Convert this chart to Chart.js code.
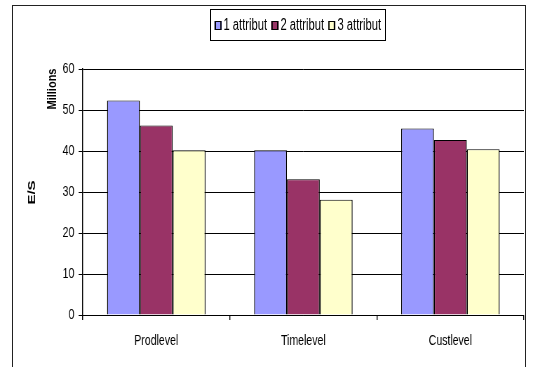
<!DOCTYPE html>
<html>
<head>
<meta charset="utf-8">
<script src="https://cdn.jsdelivr.net/npm/chart.js@4/dist/chart.umd.min.js"></script>
<style>
  html, body { margin: 0; padding: 0; background: #fff; }
  #page { position: relative; width: 533px; height: 367px; overflow: hidden; background: #fff; }
  #frame { position: absolute; left: 12px; top: 5px; width: 514px; height: 400px; border: 1px solid #222; box-sizing: border-box; }
  #legendFrame { position: absolute; left: 210px; top: 9px; width: 176px; height: 32px; border: 1px solid #000; box-sizing: border-box; background: #fff; }
  /* The reference picture is horizontally compressed (~0.70); draw wide, then compress */
  #wrap { position: absolute; left: 0; top: 0; width: 760px; height: 367px; transform: scaleX(0.70132); transform-origin: 0 0; }
  #c { position: absolute; left: 0; top: 0; }
  #legend { position: absolute; left: 299px; top: 9px; width: 251px; height: 32px;
            display: flex; align-items: center; justify-content: center; white-space: nowrap;
            font-family: 'Liberation Sans', Arial, sans-serif; font-size: 16px; color: #000; }
  .item { display: flex; align-items: center; margin: 0 3px; }
  .sw { width: 10px; height: 9px; border-style: solid; border-color: #000; border-width: 1px 2px; box-sizing: border-box; margin-right: 3px; }
</style>
</head>
<body>
<div id="page">
  <div id="frame"></div>
  <div id="legendFrame"></div>
  <div id="wrap">
    <canvas id="c" width="760" height="367"></canvas>
    <div id="legend"></div>
  </div>
</div>
<script>
const categories = ['Prodlevel', 'Timelevel', 'Custlevel'];
const seriesNames = ['1 attribut', '2 attribut', '3 attribut'];
const attr1 = [52.3, 40.2, 45.5];
const attr2 = [46.2, 33.1, 42.7];
const attr3 = [40.2, 28.1, 40.4];
const yTicks = [0, 10, 20, 30, 40, 50, 60];
const colors = ['#9999FF', '#993366', '#FFFFCC'];

const FONT = "'Liberation Sans', Arial, sans-serif";

const seriesValues = [attr1, attr2, attr3];
const datasets = seriesNames.map((n, i) => ({
  label: n,
  data: seriesValues[i],
  backgroundColor: colors[i],
  borderColor: '#000',
  borderWidth: { top: 1, bottom: 1, left: 1.4, right: 1.4 },
  categoryPercentage: 0.67,
  barPercentage: 1.0
}));

// HTML legend built from the series
const lg = document.getElementById('legend');
seriesNames.forEach((n, i) => {
  const it = document.createElement('div'); it.className = 'item';
  const sw = document.createElement('div'); sw.className = 'sw'; sw.style.background = colors[i];
  const tx = document.createElement('span'); tx.textContent = n;
  it.appendChild(sw); it.appendChild(tx); lg.appendChild(it);
});

const axisTitles = {
  id: 'axisTitles',
  afterDraw(chart) {
    const ctx = chart.ctx;
    const draw = (text, x, y, size, sx) => {
      ctx.save();
      ctx.translate(x, y);
      ctx.scale(sx, 1);
      ctx.rotate(-Math.PI / 2);
      ctx.font = 'bold ' + size + 'px ' + FONT;
      ctx.fillStyle = '#000';
      ctx.textAlign = 'center';
      ctx.textBaseline = 'middle';
      ctx.fillText(text, 0, 0);
      ctx.restore();
    };
    draw('E/S', 46, 192.5, 15, 1);
    draw('Millions', 75, 89, 11, 1.7);
  }
};

new Chart(document.getElementById('c'), {
  type: 'bar',
  data: { labels: categories, datasets },
  options: {
    responsive: false,
    animation: false,
    layout: { padding: { top: 69, right: 13, left: 0, bottom: 0 } },
    plugins: { legend: { display: false }, tooltip: { enabled: false } },
    scales: {
      x: {
        grid: { drawOnChartArea: false, drawTicks: true, tickLength: 5, color: '#000', lineWidth: 1.4, offset: true },
        border: { display: true, color: '#000', width: 1 },
        ticks: { color: '#000', font: { family: FONT, size: 15 }, padding: 12, maxRotation: 0 },
        afterFit(s) { s.height = 52; }
      },
      y: {
        min: 0, max: 60,
        afterBuildTicks(s) { s.ticks = yTicks.map(v => ({ value: v })); },
        grid: { color: '#000', lineWidth: 1, tickLength: 6, drawTicks: true },
        border: { display: true, color: '#000', width: 1.4 },
        ticks: { color: '#000', font: { family: FONT, size: 15 }, padding: 6 },
        afterFit(s) { s.width = 118; }
      }
    }
  },
  plugins: [axisTitles]
});
</script>
</body>
</html>
